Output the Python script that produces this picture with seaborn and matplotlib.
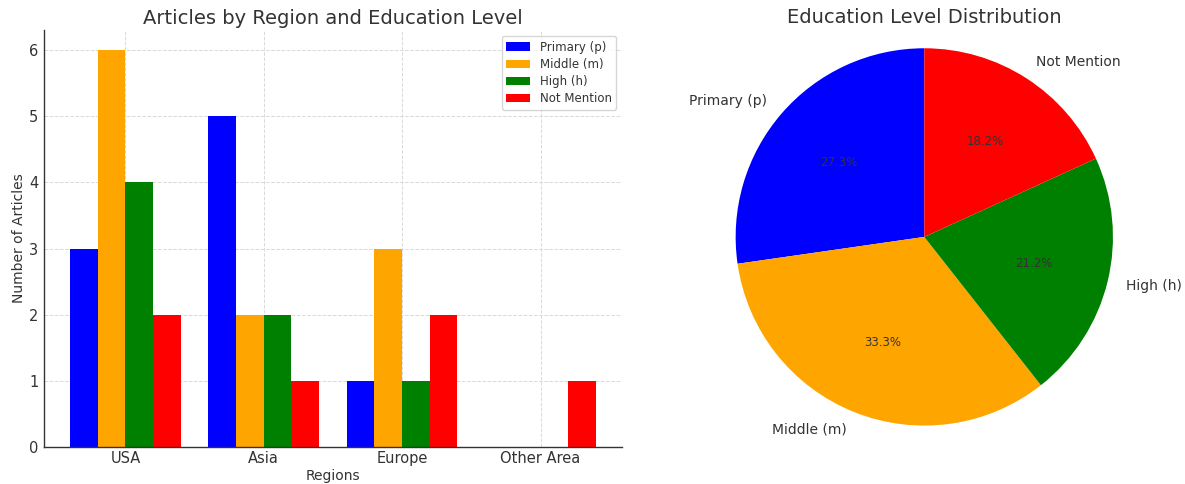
import matplotlib
matplotlib.use("Agg")
import matplotlib.pyplot as plt
import pandas as pd
import seaborn as sns

regions = ["USA", "Asia", "Europe", "Other Area"]
levels = ["Primary (p)", "Middle (m)", "High (h)", "Not Mention"]
primary = [3, 5, 1, 0]
middle = [6, 2, 3, 0]
high = [4, 2, 1, 0]
not_mention = [2, 1, 2, 1]
colors = ["blue", "orange", "green", "red"]

df = pd.DataFrame({"Region": regions * 4,
                   "Level": [lv for lv in levels for _ in regions],
                   "Articles": primary + middle + high + not_mention})
totals = [sum(primary), sum(middle), sum(high), sum(not_mention)]

sns.set_style("whitegrid", {"grid.linestyle": "--", "grid.color": "#d9d9d9",
                            "axes.edgecolor": "#333333", "text.color": "#333333",
                            "axes.labelcolor": "#333333", "xtick.color": "#333333",
                            "ytick.color": "#333333"})
plt.rcParams["font.family"] = ["DejaVu Sans"]

fig = plt.figure(figsize=(11.85, 4.84), dpi=100)
ax1 = fig.add_axes([0.037, 0.076, 0.488, 0.862])
ax2 = fig.add_axes([0.581, 0.023, 0.398, 0.975])

sns.barplot(data=df, x="Region", y="Articles", hue="Level", palette=colors,
            saturation=1, ax=ax1, width=0.8, gap=0, edgecolor="none")
ax1.set_title("Articles by Region and Education Level", fontsize=14, color="#333333", pad=4)
ax1.set_xlabel("Regions", fontsize=10, labelpad=2)
ax1.set_ylabel("Number of Articles", fontsize=10, labelpad=2)
ax1.tick_params(axis="x", labelsize=10.5, length=0, pad=3)
ax1.tick_params(axis="y", labelsize=10.5, length=3, color="#cccccc", pad=1)
ax1.grid(True, axis="both", linestyle="--", linewidth=0.7)
ax1.set_xlim(-0.59, 3.59)
ax1.set_ylim(0, 6.3)
for s in ["top", "right"]:
    ax1.spines[s].set_visible(False)
for s in ["left", "bottom"]:
    ax1.spines[s].set_color("#333333")
    ax1.spines[s].set_linewidth(1.0)
leg = ax1.legend(loc="upper right", fontsize=8.5, title=None, frameon=True,
                 labelspacing=0.35)

wedges, texts, autotexts = ax2.pie(totals, labels=levels, colors=colors,
                                   autopct="%1.1f%%", startangle=90,
                                   wedgeprops={"edgecolor": "none", "linewidth": 0},
                                   textprops={"color": "#333333"})
for t in texts:
    t.set_fontsize(10)
for t in autotexts:
    t.set_fontsize(8.5)
ax2.set_title("Education Level Distribution", fontsize=14, color="#333333", y=0.953, pad=0)
ax2.set_xlim(-1.25, 1.25)
ax2.set_ylim(-1.25, 1.25)
ax2.set_aspect("equal")

fig.savefig("out.png", dpi=100)
